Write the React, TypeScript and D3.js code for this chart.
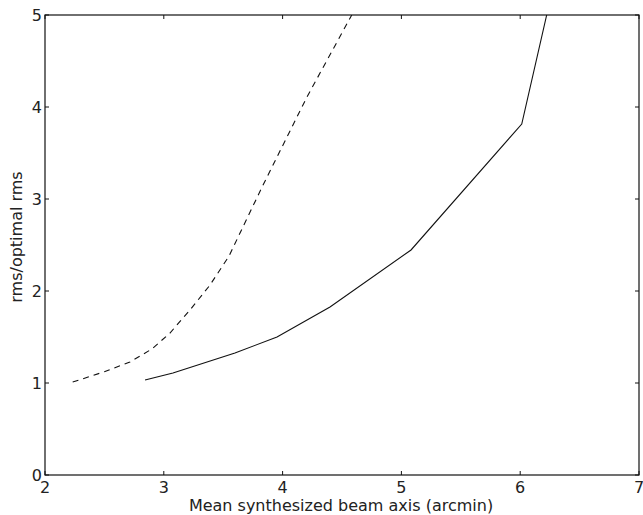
import React from "react";
import * as d3 from "d3";

const xTicks = [2, 3, 4, 5, 6, 7];
const yTicks = [0, 1, 2, 3, 4, 5];

const solidX = [2.842, 3.077, 3.599, 3.953, 4.399, 5.081, 6.013, 6.223];
const solidY = [1.033, 1.109, 1.326, 1.5, 1.826, 2.446, 3.815, 5.0];

const dashedX = [2.233, 2.505, 2.715, 2.9, 3.052, 3.22, 3.389, 3.549, 3.827, 4.205, 4.582];
const dashedY = [1.01, 1.125, 1.228, 1.37, 1.543, 1.793, 2.065, 2.38, 3.13, 4.109, 5.0];

const W = 643;
const H = 515;
const L = 45, R = 639, T = 15, B = 475;

export default function App() {
  const x = d3.scaleLinear().domain([2, 7]).range([L, R]);
  const y = d3.scaleLinear().domain([0, 5]).range([B, T]);
  const line = d3
    .line<[number, number]>()
    .x((d) => x(d[0]))
    .y((d) => y(d[1]));
  const solid = solidX.map((v, i) => [v, solidY[i]] as [number, number]);
  const dashed = dashedX.map((v, i) => [v, dashedY[i]] as [number, number]);
  const font = "'DejaVu Sans', sans-serif";
  const tc = "#222";
  return (
    <svg
      width={W}
      height={H}
      style={{ position: "absolute", left: 0, top: 0, background: "#fff" }}
      fontFamily={font}
    >
      <defs>
        <clipPath id="plotclip">
          <rect x={L} y={T} width={R - L} height={B - T} />
        </clipPath>
      </defs>
      <g clipPath="url(#plotclip)" fill="none" stroke="#111" strokeWidth={1.1}>
        <path d={line(solid) || ""} />
        <path d={line(dashed) || ""} strokeDasharray="6,5" />
      </g>
      <rect x={L} y={T} width={R - L} height={B - T} fill="none" stroke="#111" strokeWidth={1.2} />
      {xTicks.map((t) => (
        <g key={"x" + t}>
          <line x1={x(t)} x2={x(t)} y1={B} y2={B - 4} stroke="#111" />
          <line x1={x(t)} x2={x(t)} y1={T} y2={T + 4} stroke="#111" />
          <text x={x(t)} y={493} fontSize={16} textAnchor="middle" fill={tc}>
            {t}
          </text>
        </g>
      ))}
      {yTicks.map((t) => (
        <g key={"y" + t}>
          <line x1={L} x2={L + 4} y1={y(t)} y2={y(t)} stroke="#111" />
          <line x1={R} x2={R - 4} y1={y(t)} y2={y(t)} stroke="#111" />
          <text x={42} y={y(t) + 6} fontSize={16} textAnchor="end" fill={tc}>
            {t}
          </text>
        </g>
      ))}
      <text x={(L + R) / 2 - 1} y={511} fontSize={16} textAnchor="middle" fill={tc}>
        Mean synthesized beam axis (arcmin)
      </text>
      <text
        transform={`translate(22, ${(T + B) / 2 - 8}) rotate(-90)`}
        fontSize={16}
        textAnchor="middle"
        fill={tc}
      >
        rms/optimal rms
      </text>
    </svg>
  );
}
